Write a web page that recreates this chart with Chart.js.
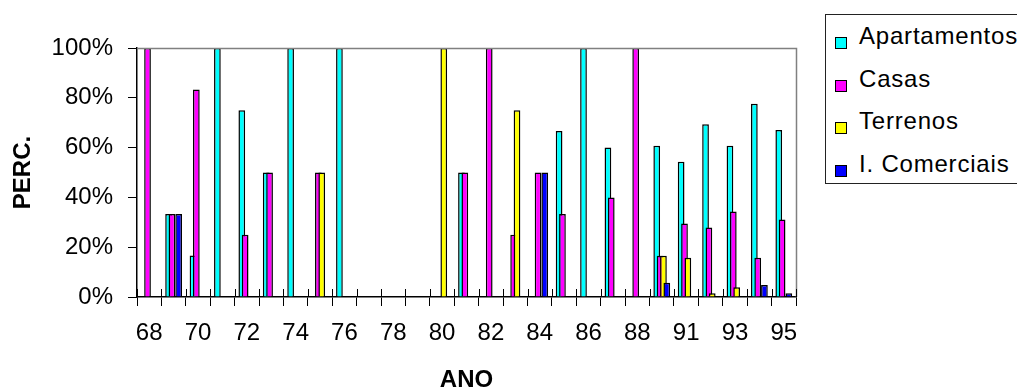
<!DOCTYPE html>
<html>
<head>
<meta charset="utf-8">
<title>PERC. por ANO</title>
<script src="https://cdn.jsdelivr.net/npm/chart.js@4.4.0/dist/chart.umd.min.js"></script>
<style>
  html, body { margin: 0; background: #fff; overflow: hidden; }
  #wrap { position: relative; width: 1017px; height: 389px; overflow: hidden; }
  #grafico { display: block; }
  #legenda {
    position: absolute; left: 825px; top: 14px; width: 260px; height: 168px;
    border: 1px solid #222; background: #fff;
    font-family: "Liberation Sans", Arial, sans-serif; font-size: 24px; color: #000;
    letter-spacing: 0.8px;
  }
  .item { position: absolute; left: 9px; height: 28px; line-height: 28px; white-space: nowrap; padding-left: 24px; }
  .caixa { position: absolute; left: 0; top: 15px; width: 10px; height: 10px; border: 1.5px solid #000; }
</style>
</head>
<body>
<div id="wrap">
  <canvas id="grafico" width="1017" height="389"></canvas>
  <div id="legenda"></div>
</div>
<script>
// Dados (percentagens por ano)
const anos = ['68','69','70','71','72','73','74','75','76','77','78','79','80','81','82','83','84','85','86','87','88','90','91','92','93','94','95'];
const apartamentos = [null,33.3,16.7,100,75,50,100,null,100,null,null,null,null,50,null,null,null,66.7,100,60,null,60.7,54.3,69.4,60.7,77.6,67.1];
const casas        = [100,33.3,83.3,null,25,50,null,50,null,null,null,null,null,50,100,25,50,33.3,null,40,100,16.6,29.5,27.9,34.3,15.8,31.1];
const terrenos     = [null,null,null,null,null,null,null,50,null,null,null,null,100,null,null,75,null,null,null,null,null,16.6,15.8,1.5,3.9,null,null];
const comerciais   = [null,33.3,null,null,null,null,null,null,null,null,null,null,null,null,null,null,50,null,null,null,null,5.7,null,null,null,4.8,1.5];
const marcasY = [0, 20, 40, 60, 80, 100];

const series = [
  { nome: 'Apartamentos', cor: '#00FFFF', valores: apartamentos },
  { nome: 'Casas', cor: '#FF00FF', valores: casas },
  { nome: 'Terrenos', cor: '#FFFF00', valores: terrenos },
  { nome: 'I. Comerciais', cor: '#0000FF', valores: comerciais }
];

const fonte = '"Liberation Sans", Arial, sans-serif';

// Excel desenha a série seguinte por cima da anterior
const ordemExcel = {
  id: 'ordemExcel',
  beforeDatasetsDraw(chart) {
    chart.getSortedVisibleDatasetMetas().forEach(m => m.controller.draw());
    return false;
  }
};

// Moldura cinza (topo e direita) e marcas internas do eixo X
const moldura = {
  id: 'moldura',
  afterDraw(chart) {
    const { ctx, chartArea } = chart;
    const x = chart.scales.x;
    const t = Math.round(chartArea.top) + 0.5;
    const r = Math.round(chartArea.right) + 0.5;
    const b = Math.round(chartArea.bottom);
    ctx.save();
    ctx.strokeStyle = '#808080';
    ctx.lineWidth = 1.5;
    ctx.beginPath();
    ctx.moveTo(chartArea.left, t);
    ctx.lineTo(r, t);
    ctx.lineTo(r, b);
    ctx.stroke();
    ctx.strokeStyle = '#000';
    ctx.lineWidth = 1;
    ctx.beginPath();
    for (let i = 0; i <= anos.length; i++) {
      const px = Math.round(x.getPixelForValue(i - 0.5)) + 0.5;
      ctx.moveTo(px, b);
      ctx.lineTo(px, b - 8);
    }
    ctx.stroke();
    ctx.restore();
  }
};

new Chart(document.getElementById('grafico'), {
  type: 'bar',
  data: {
    labels: anos,
    datasets: series.map(s => ({
      label: s.nome,
      data: s.valores,
      backgroundColor: s.cor,
      borderColor: '#000',
      borderWidth: 1.5,
      categoryPercentage: 0.55,
      barPercentage: 2.0
    }))
  },
  options: {
    responsive: false,
    animation: false,
    layout: { padding: { left: 0, right: 221, top: 48, bottom: 0 } },
    plugins: { legend: { display: false }, tooltip: { enabled: false } },
    scales: {
      x: {
        grid: { offset: true, drawOnChartArea: false, tickLength: 9, color: '#000', tickColor: '#000' },
        border: { color: '#000', width: 1.5 },
        ticks: {
          autoSkip: false, maxRotation: 0, padding: 13, color: '#000',
          font: { family: fonte, size: 24 },
          callback: (v, i) => (i % 2 === 0 ? anos[i] : '')
        },
        title: {
          display: true, text: 'ANO', color: '#000',
          font: { family: fonte, size: 24, weight: 'bold' },
          padding: { top: 0, bottom: -6 }
        },
        afterFit: s => { s.height = 92; }
      },
      y: {
        min: 0, max: 100,
        afterBuildTicks: s => { s.ticks = marcasY.map(v => ({ value: v })); },
        grid: { drawOnChartArea: false, tickLength: 9, color: '#000', tickColor: '#000' },
        border: { color: '#000', width: 1.5 },
        ticks: {
          padding: 15, color: '#000',
          font: { family: fonte, size: 24 },
          callback: v => v + '%'
        },
        title: {
          display: true, text: 'PERC.', color: '#000',
          font: { family: fonte, size: 24, weight: 'bold' },
          padding: { top: 9, bottom: 0 }
        },
        afterFit: s => { s.width = 137; }
      }
    }
  },
  plugins: [ordemExcel, moldura]
});

// Legenda com caixa, como no original
const legenda = document.getElementById('legenda');
const topos = [7, 50, 92, 135];
series.forEach((s, i) => {
  const item = document.createElement('div');
  item.className = 'item';
  item.style.top = topos[i] + 'px';
  const caixa = document.createElement('span');
  caixa.className = 'caixa';
  caixa.style.background = s.cor;
  item.appendChild(caixa);
  item.appendChild(document.createTextNode(s.nome));
  legenda.appendChild(item);
});
</script>
</body>
</html>
